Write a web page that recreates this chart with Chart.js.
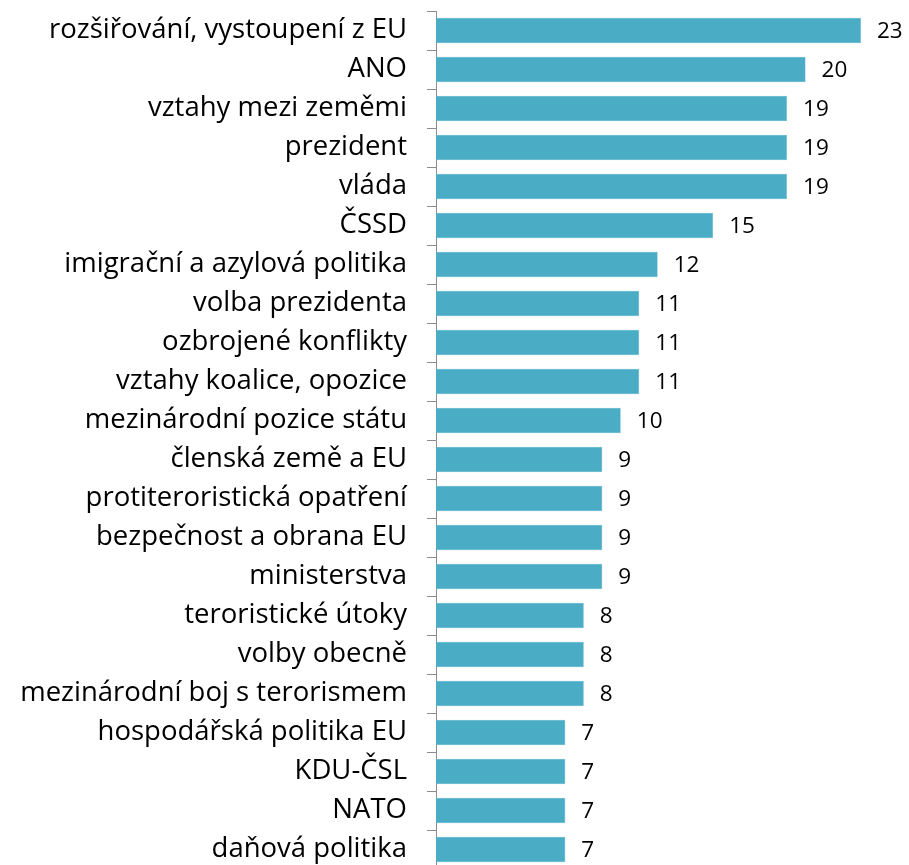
<!DOCTYPE html>
<html>
<head>
<meta charset="utf-8">
<script src="https://cdn.jsdelivr.net/npm/chart.js@4/dist/chart.umd.min.js"></script>
<style>
  html, body { margin: 0; padding: 0; background: #fff; overflow: hidden; }
  canvas { display: block; }
</style>
</head>
<body>
<canvas id="topicsChart" width="909" height="872" style="width:909px;height:872px"></canvas>
<script>
// --- Data ---
const topics = [
    'rozšiřování, vystoupení z EU', 'ANO', 'vztahy mezi zeměmi', 'prezident', 'vláda',
    'ČSSD', 'imigrační a azylová politika', 'volba prezidenta', 'ozbrojené konflikty',
    'vztahy koalice, opozice', 'mezinárodní pozice státu', 'členská země a EU',
    'protiteroristická opatření', 'bezpečnost a obrana EU', 'ministerstva',
    'teroristické útoky', 'volby obecně', 'mezinárodní boj s terorismem',
    'hospodářská politika EU', 'KDU-ČSL', 'NATO', 'daňová politika'
];
const counts = [23, 20, 19, 19, 19, 15, 12, 11, 11, 11, 10, 9, 9, 9, 9, 8, 8, 8, 7, 7, 7, 7];

const FONT = '"Open Sans", sans-serif';

// --- Value labels at the end of each bar ---
const valueLabels = {
    id: 'valueLabels',
    afterDatasetsDraw(chart) {
        const ctx = chart.ctx;
        const meta = chart.getDatasetMeta(0);
        ctx.save();
        ctx.font = '22.5px ' + FONT;
        ctx.fillStyle = '#000';
        ctx.textAlign = 'left';
        ctx.textBaseline = 'middle';
        meta.data.forEach((bar, i) => {
            ctx.fillText(counts[i], bar.x + 16, bar.y + 1);
        });
        ctx.restore();
    }
};

// --- Chart ---
new Chart(document.getElementById('topicsChart').getContext('2d'), {
    type: 'bar',
    data: {
        labels: topics,
        datasets: [{
            data: counts,
            backgroundColor: '#4BACC6',
            borderColor: '#6cbdd3',
            borderWidth: 0.5,
            barPercentage: 0.65,
            categoryPercentage: 1
        }]
    },
    options: {
        indexAxis: 'y',
        responsive: false,
        animation: false,
        layout: { padding: { top: 11, right: 48, bottom: 3, left: 0 } },
        plugins: { legend: { display: false }, tooltip: { enabled: false } },
        scales: {
            x: { display: false, min: 0, max: 23 },
            y: {
                afterFit(scale) {
                    scale.width = 436;
                    scale.paddingTop = 0;
                    scale.paddingBottom = 0;
                },
                grid: { drawOnChartArea: false, drawTicks: true, tickLength: 9, color: '#8c8c8c' },
                border: { display: true, color: '#8c8c8c', width: 1 },
                ticks: { color: '#000', padding: 20, font: { family: FONT, size: 27.5 } }
            }
        }
    },
    plugins: [valueLabels]
});
</script>
</body>
</html>
